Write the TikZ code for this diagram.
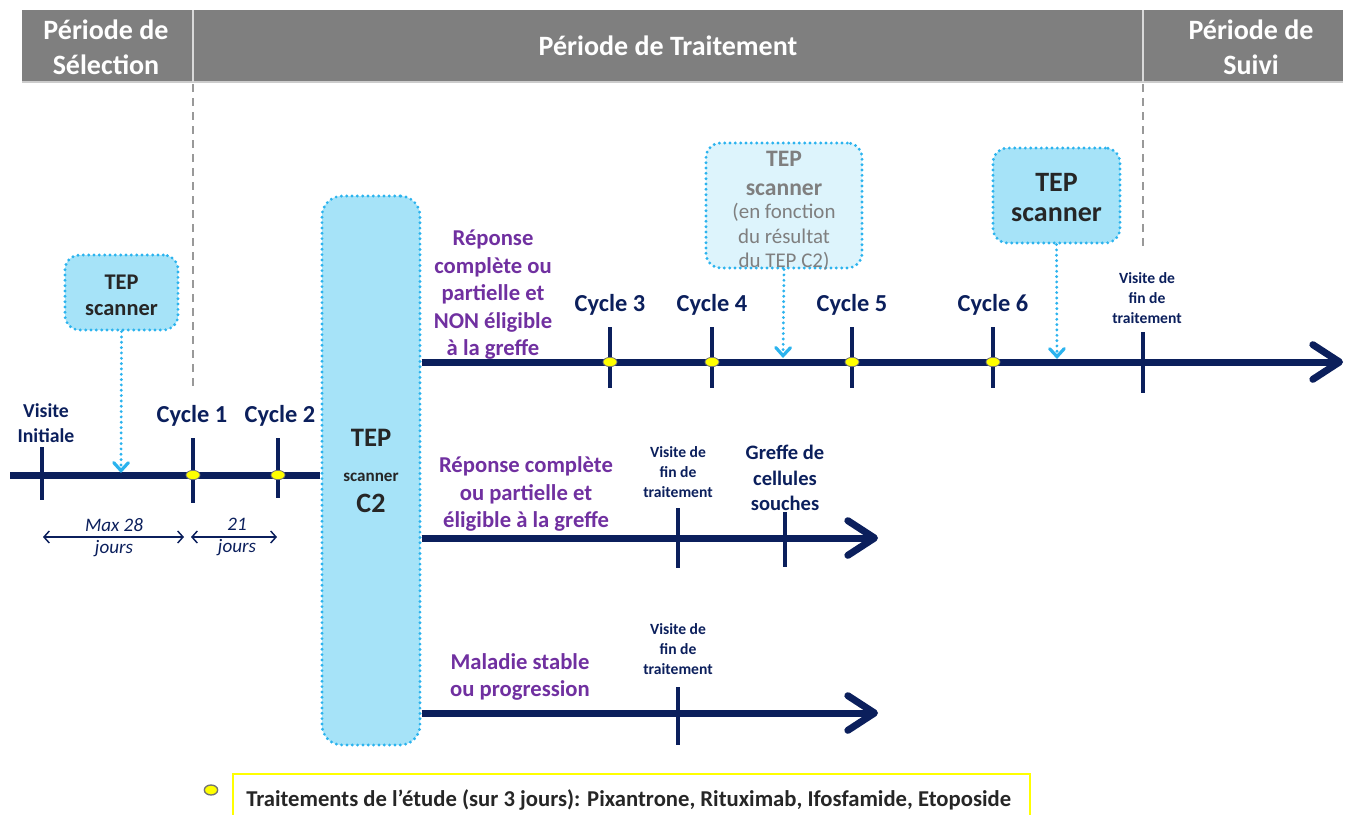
\documentclass[tikz,border=0pt]{standalone}
\usepackage{fontspec}
\setmainfont{Carlito}
\usetikzlibrary{arrows.meta,shapes.geometric}
\definecolor{navy}{HTML}{0B1F5C}
\definecolor{purp}{HTML}{7030A0}
\definecolor{petfill}{HTML}{A6E3F8}
\definecolor{petlight}{HTML}{DDF4FC}
\definecolor{petline}{HTML}{2BB3EE}
\definecolor{hdrgray}{HTML}{7F7F7F}
\definecolor{tepgray}{HTML}{7F7F7F}
\definecolor{legyellow}{HTML}{FFFF00}
\newcommand\fsz[2]{\fontsize{#1}{#2}\selectfont}
\tikzset{
  hdrtext/.style={text=white, font=\fsz{21}{26}\bfseries, align=center, inner sep=0pt},
  tl/.style={draw=navy, line width=5.25pt},
  tlarrow/.style={tl, -{Straight Barb[length=20pt, width=26pt, round]}},
  tick/.style={draw=navy, line width=3pt},
  ydot/.style={ellipse, fill=legyellow, draw=black!55, line width=0.6pt, minimum width=10.5pt, minimum height=7pt, inner sep=0pt},
  petbox/.style={draw=petline, fill=petfill, line width=2.4pt, dash pattern=on 0pt off 4pt, line cap=round, rounded corners=11pt},
  petarrow/.style={draw=petline, line width=2.4pt, dash pattern=on 0pt off 4pt, line cap=round, -{Straight Barb[length=6pt, width=11pt, line cap=round, sep=0pt]}},
  cyc/.style={text=navy, font=\fsz{18.3}{20}\bfseries, inner sep=0pt},
  small/.style={text=navy, font=\fsz{11.7}{15}\bfseries, align=center, inner sep=0pt},
  purptext/.style={text=purp, font=\fsz{17}{20.6}\bfseries, align=center, inner sep=0pt},
  dur/.style={draw=navy, line width=1.1pt, {Straight Barb[length=4pt, width=9pt]}-{Straight Barb[length=4pt, width=9pt]}},
  durtext/.style={text=navy, font=\fsz{14.3}{17}\itshape, inner sep=0pt},
  sep/.style={draw=black!40, line width=1pt, dash pattern=on 6pt off 4.5pt},
}
\begin{document}
\begin{tikzpicture}[x=0.75pt, y=-0.75pt]
\useasboundingbox (0,0) rectangle (1348,814);
% header
\fill[hdrgray] (22,10) rectangle (1343,82);
\draw[black!20, line width=1pt] (22,82) -- (1343,82);
\draw[white!85!black, line width=1.3pt] (193,10) -- (193,82) (1143,10) -- (1143,82);
\node[hdrtext] (sel) at (106,47) {Période de\\Sélection};
\node[hdrtext] (trt) at (668,46) {Période de Traitement};
\node[hdrtext] (suivi) at (1251,47) {Période de\\Suivi};
% separators
\draw[sep] (193,84) -- (193,386);
\draw[sep] (1143,84) -- (1143,250);

% big TEP scanner C2 box
\node[petbox, rounded corners=15pt, minimum width=73.5pt, minimum height=411.75pt] (c2) at (371,470.5) {};
\node[text=black!85, font=\fsz{20}{22}\bfseries, inner sep=0pt] (c2a) at (371,438) {TEP};
\node[text=black!85, font=\fsz{12.8}{14}\bfseries, inner sep=0pt] (c2b) at (371,477) {scanner};
\node[text=black!85, font=\fsz{21}{22}\bfseries, inner sep=0pt] (c2c) at (371,503) {C2};

% timeline 1
\coordinate (t1s) at (10,475);
\draw[tl] (t1s) -- (t1s -| c2.west);
\draw[tick] (42,447) -- (42,500);
\draw[tick] (193,438) -- (193,503);
\draw[tick] (278,438) -- (278,498);
\node[ydot] (d1) at (193,475) {};
\node[ydot] (d2) at (278,475) {};
\node[text=navy, font=\fsz{14.8}{19}\bfseries, align=center, inner sep=0pt] (vi) at (46,423) {Visite\\Initiale};
\node[cyc] (lc1) at (192,416) {Cycle 1};
\node[cyc] (lc2) at (280,416) {Cycle 2};

% TEP scanner box 1
\node[petbox, minimum width=84.75pt, minimum height=56.25pt] (p1) at (121.5,292.5) {};
\node[text=black!85, font=\fsz{16.8}{19.5}\bfseries, align=center, inner sep=0pt] (p1t) at (121.5,295) {TEP\\scanner};
\coordinate (p1e) at (121,473);
\draw[petarrow] (p1.south) -- (p1e);

% durations
\coordinate (m1) at (43,537); \coordinate (m2) at (184,537);
\draw[dur] (m1) -- (m2);
\node[durtext] (mx1) at (114,525) {Max 28};
\node[durtext] (mx2) at (114,549) {jours};
\coordinate (m3) at (191,537); \coordinate (m4) at (277,537);
\draw[dur] (m3) -- (m4);
\node[durtext] (d21a) at (237,524) {21};
\node[durtext] (d21b) at (237,548) {jours};

% line 2 (top)
\coordinate (l2e) at (1343,362);
\draw[tlarrow] (c2.east |- l2e) -- (l2e);
\foreach \x/\n in {610/3, 712/4, 852/5, 993/6} {
  \draw[tick] (\x,327) -- (\x,388);
  \node[ydot] (dc\n) at (\x,362) {};
  \node[cyc] (lc\n) at (\x,305) {Cycle \n};
}
\draw[tick] (1143,332) -- (1143,393);
\node[small] (fin1) at (1147,298) {Visite de\\fin de\\traitement};
\node[purptext] (r1) at (493,295) {Réponse\\complète ou\\partielle et\\NON éligible\\à la greffe};

% TEP scanner box 2 (light)
\node[petbox, fill=petlight, minimum width=117pt, minimum height=93.75pt] (p2) at (784,205.5) {};
\node[text=tepgray, font=\fsz{17.7}{21.75}\bfseries, align=center, inner sep=0pt] (p2t) at (784,173) {TEP\\scanner};
\node[text=tepgray, font=\fsz{15.7}{18.4}, align=center, inner sep=0pt] (p2u) at (784,237) {(en fonction\\du résultat\\du TEP C2)};
\coordinate (p2e) at (783,358);
\draw[petarrow] (p2.south) -- (p2e);

% TEP scanner box 3
\node[petbox, minimum width=95.25pt, minimum height=71.25pt] (p3) at (1056.5,195.5) {};
\node[text=black!85, font=\fsz{21}{22.5}\bfseries, align=center, inner sep=0pt] (p3t) at (1056.5,198) {TEP\\scanner};
\coordinate (p3e) at (1057,359);
\draw[petarrow] (p3.south) -- (p3e);

% line 3
\coordinate (l3e) at (878,538);
\draw[tlarrow] (c2.east |- l3e) -- (l3e);
\draw[tick] (678,508) -- (678,568);
\draw[tick] (785,512) -- (785,567);
\node[small] (fin2) at (678,472) {Visite de\\fin de\\traitement};
\node[text=navy, font=\fsz{15.4}{19}\bfseries, align=center, inner sep=0pt] (gr) at (785,478) {Greffe de\\cellules\\souches};
\node[purptext] (r2) at (526,494) {Réponse complète\\ou partielle et\\éligible à la greffe};

% line 4
\coordinate (l4e) at (878,713);
\draw[tlarrow] (c2.east |- l4e) -- (l4e);
\draw[tick] (678,687) -- (678,745);
\node[small] (fin3) at (678,649) {Visite de\\fin de\\traitement};
\node[purptext] (r3) at (520,677) {Maladie stable\\ou progression};

% legend
\node[ydot, minimum width=10pt, minimum height=7.5pt, line width=1pt] (ld) at (211,790) {};
\draw[legyellow, line width=2.2pt] (233,830) -- (233,774) -- (1030,774) -- (1030,830);
\node[anchor=west, text=black!85, font=\fsz{17}{18}\bfseries, inner sep=0pt] (lt) at (246,800) {Traitements de l’étude (sur 3 jours): Pixantrone, Rituximab, Ifosfamide, Etoposide};
\end{tikzpicture}
\end{document}
